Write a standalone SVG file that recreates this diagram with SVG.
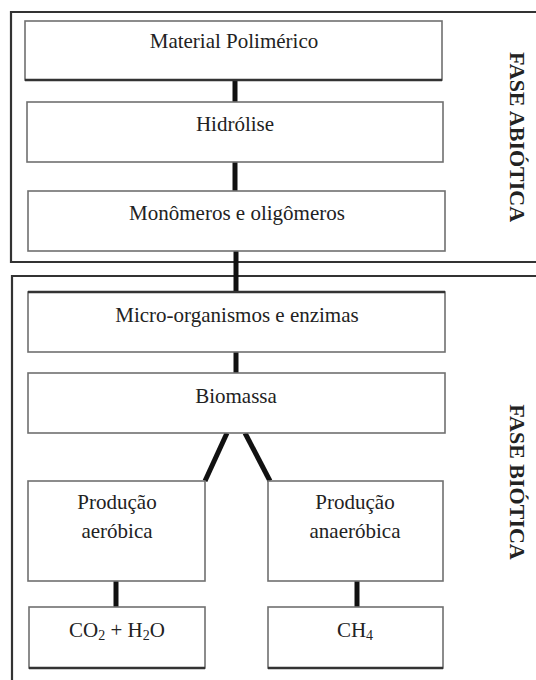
<svg xmlns="http://www.w3.org/2000/svg" width="536" height="680" viewBox="0 0 536 680">
<style>
.frame{fill:none;stroke:#333;stroke-width:2.2}
.box{fill:#fff;stroke:#707070;stroke-width:1.6}
.edge{stroke:#333;stroke-width:2.4}
.conn{stroke:#111;stroke-width:5;fill:none}
.t{font-size:21px;fill:#222;text-anchor:middle}
.sub{font-size:14px}
.phase{font-size:22px;font-weight:bold;fill:#222;text-anchor:middle}
</style>
<rect width="536" height="680" fill="#fff"/>
<g id="frames" font-family="Liberation Serif, Tinos, Times New Roman, DejaVu Serif, serif">
<path class="frame" d="M540 12 H11 V262 H540"/>
<path class="frame" d="M540 276 H12 V690"/>
<text class="phase" transform="translate(510,137) rotate(90)">FASE ABIÓTICA</text>
<text class="phase" transform="translate(510,482) rotate(90)">FASE BIÓTICA</text>
</g>
<g id="connectors">
<line class="conn" x1="235" y1="80" x2="235" y2="102"/>
<line class="conn" x1="235" y1="162" x2="235" y2="191"/>
<line class="conn" x1="236" y1="251" x2="236" y2="292"/>
<line class="conn" x1="236" y1="352" x2="236" y2="373"/>
<line class="conn" x1="227" y1="433" x2="205" y2="481"/>
<line class="conn" x1="245" y1="433" x2="270" y2="481"/>
<line class="conn" x1="116" y1="581" x2="116" y2="607"/>
<line class="conn" x1="357" y1="581" x2="357" y2="607"/>
</g>
<g id="nodes" font-family="Liberation Serif, Tinos, Times New Roman, DejaVu Serif, serif">
<g id="n1">
<rect class="box" x="25" y="21" width="417" height="59"/>
<line class="edge" x1="25" y1="80" x2="442" y2="80"/>
<text class="t" x="234" y="48">Material Polimérico</text>
</g>
<g id="n2">
<rect class="box" x="27" y="102" width="416" height="60"/>
<text class="t" x="235" y="131">Hidrólise</text>
</g>
<g id="n3">
<rect class="box" x="28" y="191" width="417" height="60"/>
<text class="t" x="237" y="220">Monômeros e oligômeros</text>
</g>
<g id="n4">
<rect class="box" x="28" y="292" width="417" height="60"/>
<line class="edge" x1="28" y1="292" x2="445" y2="292"/>
<text class="t" x="237" y="322">Micro-organismos e enzimas</text>
</g>
<g id="n5">
<rect class="box" x="28" y="373" width="417" height="60"/>
<text class="t" x="236" y="403">Biomassa</text>
</g>
<g id="n6">
<rect class="box" x="28" y="481" width="177" height="100"/>
<text class="t" x="117" y="509">Produção</text>
<text class="t" x="117" y="538">aeróbica</text>
</g>
<g id="n7">
<rect class="box" x="268" y="481" width="175" height="100"/>
<text class="t" x="355" y="509">Produção</text>
<text class="t" x="355" y="538">anaeróbica</text>
</g>
<g id="n8">
<rect class="box" x="29" y="607" width="176" height="61"/>
<line class="edge" x1="29" y1="668" x2="205" y2="668"/>
<text class="t" x="117" y="637">CO<tspan class="sub" dy="3">2</tspan><tspan dy="-3"> + H</tspan><tspan class="sub" dy="3">2</tspan><tspan dy="-3">O</tspan></text>
</g>
<g id="n9">
<rect class="box" x="268" y="607" width="175" height="61"/>
<line class="edge" x1="268" y1="668" x2="443" y2="668"/>
<text class="t" x="355" y="637">CH<tspan class="sub" dy="3">4</tspan></text>
</g>
</g>
</svg>
